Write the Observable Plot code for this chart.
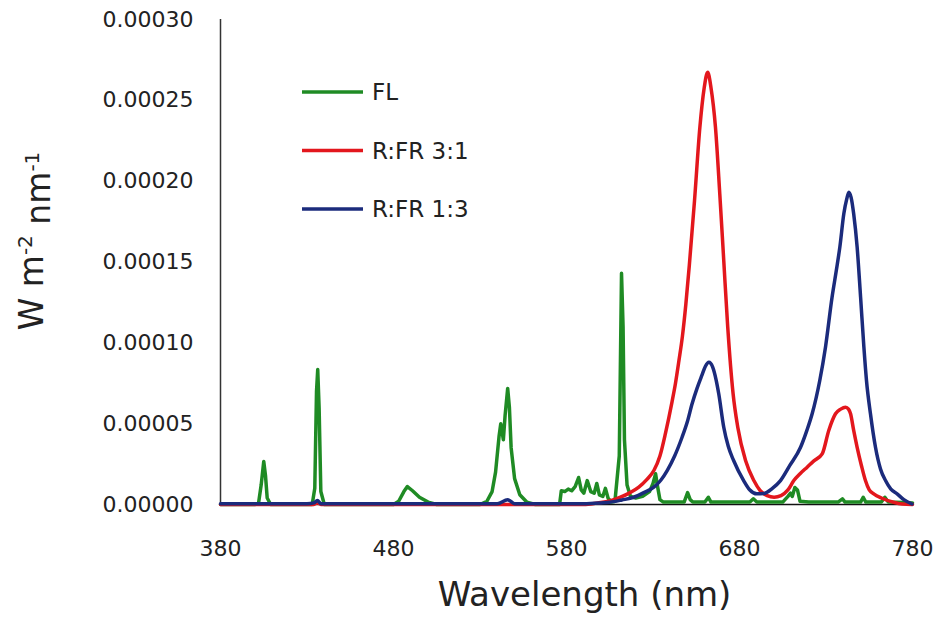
<!DOCTYPE html>
<html>
<head>
<meta charset="utf-8">
<script src="https://cdn.jsdelivr.net/npm/d3@7"></script>
<script src="https://cdn.jsdelivr.net/npm/@observablehq/plot@0.6"></script>
<style>
  html, body { margin: 0; padding: 0; background: #fff; }
  #chart { position: relative; width: 943px; height: 641px; }
</style>
</head>
<body>
<div id="chart"></div>
<script>
// ---------- data ----------
const seriesNames = ["FL", "R:FR 3:1", "R:FR 1:3"];
const seriesColors = ["#1f8b24", "#e3171d", "#1b2b7c"];

const xTicks = [380, 480, 580, 680, 780];
const yTicks = [0, 0.00005, 0.0001, 0.00015, 0.0002, 0.00025, 0.0003];

// FL (fluorescent)
const flNm = [380, 400, 402, 403.5, 405, 406, 407, 409,
  433, 434.5, 435.5, 436.2, 437, 438, 440,
  480, 483, 486, 488, 491, 495, 500, 505,
  530, 534, 537, 539, 541, 542, 543.5, 544.5, 546, 547, 548, 550, 553, 557, 562,
  576, 577, 579, 581, 583, 585, 587, 588.5, 590, 592, 594, 596, 597.5, 599, 601, 602.5, 604, 606, 608,
  610.5, 611.8, 612.7, 613.5, 615, 617, 620, 624, 628, 630, 631.5, 632.5, 634, 636,
  642, 648, 650, 651.5, 653, 660, 662, 663.5, 670, 686, 688, 690,
  705, 708, 709.5, 710.5, 712, 713.5, 715, 720, 737, 739.5, 741, 750, 751.5, 753, 762, 764, 766, 775, 780];
const flW = [0, 0, 0.000001, 0.000012, 0.0000266, 0.000018, 0.000004, 0,
  0, 0.00001, 0.00007, 0.0000835, 0.00006, 0.000008, 0,
  0, 0.000002, 0.000008, 0.0000111, 0.0000085, 0.0000045, 0.0000015, 0,
  0, 0.000002, 0.000008, 0.00002, 0.000042, 0.00005, 0.00004, 0.000055, 0.0000718, 0.00006, 0.000035, 0.000016, 0.000006, 0.0000015, 0,
  0, 0.0000085, 0.000008, 0.0000095, 0.0000085, 0.000011, 0.0000167, 0.000009, 0.000007, 0.0000148, 0.000008, 0.000007, 0.000013, 0.000006, 0.000005, 0.00001, 0.000004, 0.0000015, 0.000002,
  0.00003, 0.000143, 0.00011, 0.00004, 0.000012, 0.000005, 0.000004, 0.000005, 0.000008, 0.000013, 0.000019, 0.000012, 0.000003, 0.0000015,
  0.0000015, 0.0000015, 0.0000074, 0.000003, 0.0000015, 0.0000015, 0.0000045, 0.0000015, 0.0000015, 0.0000015, 0.0000035, 0.0000015,
  0.0000015, 0.000005, 0.000007, 0.000005, 0.0000105, 0.000009, 0.000002, 0.0000015, 0.0000015, 0.0000035, 0.0000015, 0.0000015, 0.0000045, 0.0000015, 0.0000015, 0.0000045, 0.0000015, 0.0000012, 0.000001];

// R:FR 3:1
const r31Nm = [380, 434, 436, 438, 590, 598, 605, 611.2, 616.5, 621.8, 626.5, 630.5, 634, 637.2, 641, 643, 645,
  647, 649, 651, 654, 657.1, 659.5, 661.6, 663.5, 666.1, 668.6, 670.9, 673.2, 676.3, 679, 683.5, 688.3, 692,
  696, 700, 704, 708, 711.4, 715, 719.1, 723, 727.8, 731.6, 735.5, 738.5, 741.3, 743, 744.2, 746, 748,
  750.5, 752.8, 755, 757.6, 762, 769, 774, 780];
const r31W = [0, 0, 0.000001, 0, 0, 0.000001, 0.0000022, 0.0000045, 0.0000072, 0.0000107, 0.0000155, 0.000021, 0.00003, 0.000044, 0.0000635, 0.000075, 0.000089,
  0.000104, 0.000124, 0.000148, 0.000188, 0.0002334, 0.000257, 0.0002674, 0.000258, 0.0002334, 0.0001922, 0.0001509, 0.0001097, 0.0000685, 0.0000478, 0.0000272, 0.0000148, 0.0000085,
  0.0000055, 0.0000045, 0.0000055, 0.000009, 0.0000148, 0.000019, 0.0000231, 0.000027, 0.0000313, 0.0000458, 0.0000561, 0.000059, 0.0000602, 0.000059, 0.0000561, 0.0000458, 0.0000354,
  0.000024, 0.0000148, 0.000009, 0.0000066, 0.000004, 0.0000014, 0.0000003, 0];

// R:FR 1:3
const r13Nm = [380, 430, 434, 436, 438, 540, 546, 550, 590, 600, 605, 612, 618.9, 625, 630.5, 634.5, 638.2, 642.5, 646.8, 649.8,
  652.6, 655.5, 658.3, 660.3, 662.3, 664.5, 666.5, 668, 670.9, 673.5, 676.6, 682.4, 686, 690, 694, 699, 703.7, 709,
  715.3, 719, 722, 726.4, 729.7, 733.5, 736, 738, 740.3, 742, 743.2, 744.5, 746, 748, 750, 751.9, 753.4,
  755.7, 758.6, 761.5, 764.4, 767.5, 771.1, 775, 779.7];
const r13W = [0.0000005, 0.0000005, 0.000001, 0.0000025, 0.0000005, 0.0000005, 0.000003, 0.0000005, 0.0000005, 0.000001, 0.0000014, 0.0000028, 0.0000045, 0.0000075, 0.0000107, 0.000015, 0.000021, 0.00003, 0.0000416, 0.000051,
  0.0000623, 0.000072, 0.00008, 0.0000855, 0.000088, 0.000085, 0.000077, 0.0000685, 0.0000478, 0.000036, 0.0000272, 0.0000148, 0.000009, 0.0000066, 0.0000068, 0.00001, 0.0000148, 0.000024,
  0.0000354, 0.000046, 0.0000561, 0.0000767, 0.0000973, 0.0001282, 0.000145, 0.0001592, 0.0001798, 0.000189, 0.0001932, 0.00019, 0.0001798, 0.0001592, 0.0001282, 0.0000973, 0.0000767,
  0.0000561, 0.0000354, 0.000022, 0.0000148, 0.0000095, 0.0000066, 0.000003, 0.0000003];

// ---------- build tables ----------
const toRows = (nm, w, s) => nm.map((x, i) => ({nm: x, w: w[i], series: s}));
const flRows = toRows(flNm, flW, seriesNames[0]);
const r31Rows = toRows(r31Nm, r31W, seriesNames[1]);
const r13Rows = toRows(r13Nm, r13W, seriesNames[2]);

const FONT = "DejaVu Sans";
const TEXT = "#222";

const chart = Plot.plot({
  width: 943,
  height: 641,
  marginLeft: 220,
  marginRight: 31,
  marginTop: 19,
  marginBottom: 137,
  style: {fontFamily: FONT, fontSize: "22px", color: TEXT, background: "#fff", overflow: "visible"},
  x: {domain: [380, 780], ticks: xTicks, tickSize: 0, tickPadding: 36, label: null},
  y: {domain: [0, 0.0003], ticks: yTicks, tickFormat: d3.format(".5f"), tickSize: 0, tickPadding: 27, label: null},
  marks: [
    Plot.ruleY([0], {stroke: "#111", strokeWidth: 1.5}),
    Plot.ruleX([380], {stroke: "#333", strokeWidth: 1.5}),
    Plot.line(flRows, {x: "nm", y: "w", stroke: seriesColors[0], strokeWidth: 3.5, curve: "linear"}),
    Plot.line(r31Rows, {x: "nm", y: "w", stroke: seriesColors[1], strokeWidth: 3.5, curve: "monotone-x"}),
    Plot.line(r13Rows, {x: "nm", y: "w", stroke: seriesColors[2], strokeWidth: 3.5, curve: "monotone-x"}),
    Plot.text(["Wavelength (nm)"], {frameAnchor: "bottom", dy: 101, dx: 18, fontSize: 34, fill: TEXT})
  ]
});

document.getElementById("chart").appendChild(chart);

// y-axis title with superscripts
const svg = d3.select(chart);
const yt = svg.append("text")
  .attr("transform", "translate(43,241) rotate(-90)")
  .attr("text-anchor", "middle")
  .attr("fill", TEXT)
  .style("font-family", FONT)
  .style("font-size", "33px");
yt.append("tspan").text("W m");
yt.append("tspan").attr("dy", "-0.55em").style("font-size", "20px").text("-2");
yt.append("tspan").attr("dy", "0.55em").text(" nm");
yt.append("tspan").attr("dy", "-0.55em").style("font-size", "20px").text("-1");

// legend (inside the plot area)
const legend = svg.append("g").attr("transform", "translate(302,92)");
seriesNames.forEach((name, i) => {
  const g = legend.append("g").attr("transform", `translate(0,${i * 58.5})`);
  g.append("line").attr("x1", 0).attr("x2", 61).attr("y1", 0).attr("y2", 0)
    .attr("stroke", seriesColors[i]).attr("stroke-width", 3.5);
  g.append("text").attr("x", 70).attr("y", 0).attr("dy", "0.36em")
    .attr("text-anchor", "start")
    .attr("fill", TEXT).style("font-family", FONT).style("font-size", "23px").text(name);
});
</script>
</body>
</html>
